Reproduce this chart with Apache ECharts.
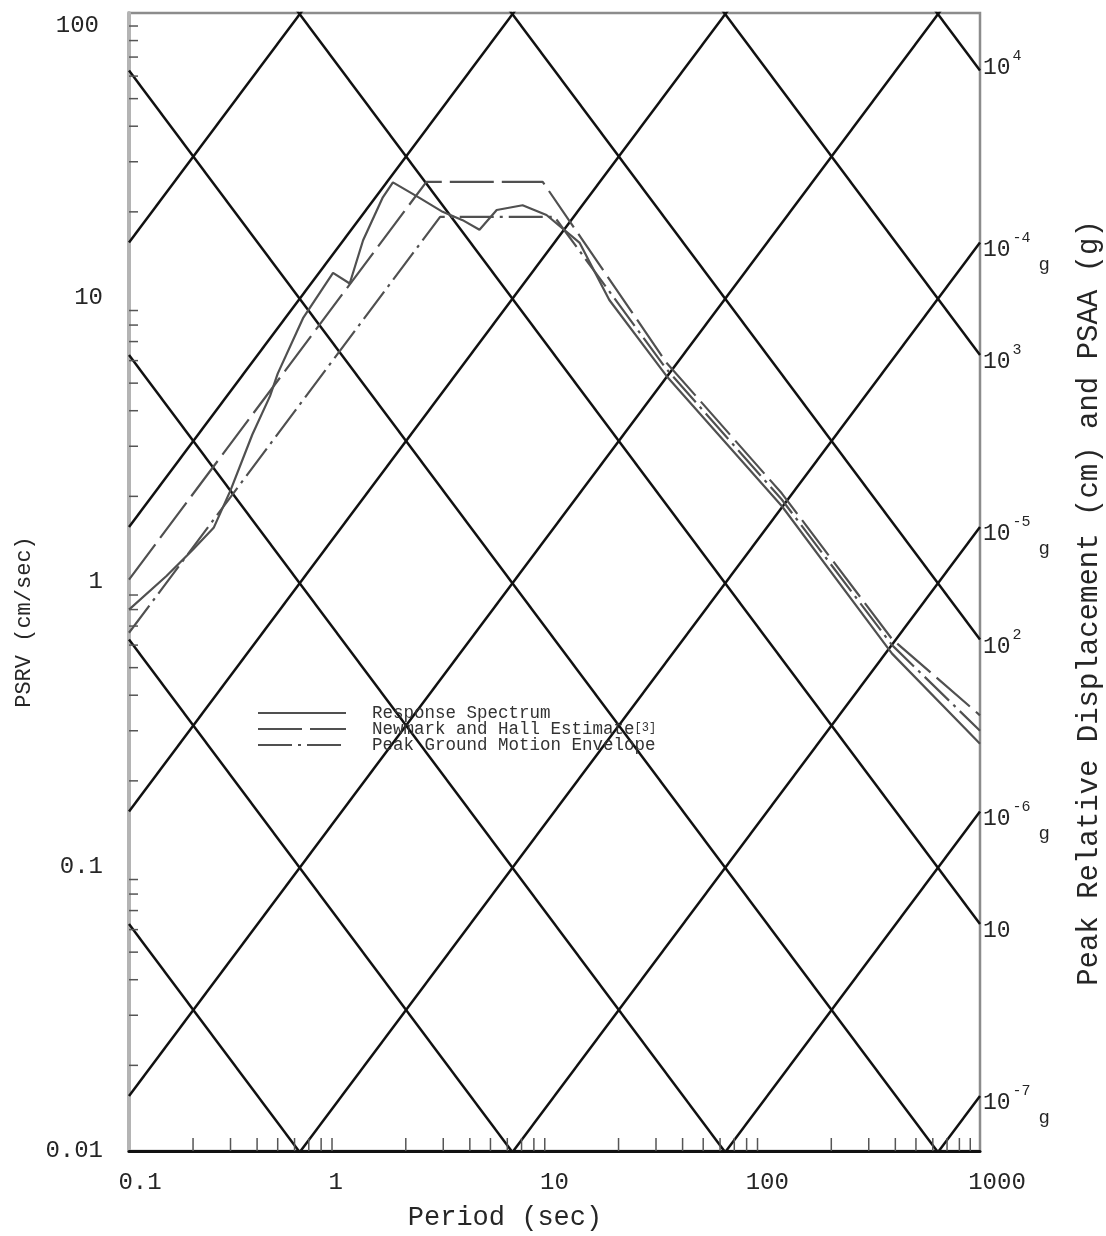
<!DOCTYPE html>
<html><head><meta charset="utf-8">
<script src="https://cdn.jsdelivr.net/npm/echarts@6/dist/echarts.min.js"></script>
<style>html,body{margin:0;padding:0;background:#fff}#c{width:1106px;height:1236px}</style>
</head><body><div id="c"></div>
<script>
// ---- tick labels ----
const xTickLabels = ['0.1', '1', '10', '100', '1000'];
const yTickLabels = ['0.01', '0.1', '1', '10', '100'];
const minorMultipliers = [2, 3, 4, 5, 6, 7, 8, 9];
const xDecades = [0.1, 1, 10, 100];
const yDecades = [0.01, 0.1, 1, 10];
// ---- tripartite grid: displacement (cm) and acceleration (g) lines with right-edge labels ----
const dispLines  = [1e-3, 1e-2, 1e-1, 1, 10, 100, 1e3, 1e4];
const dispLabels = ['', '', '', '', '{b|10}', '{b|10}{s|2}', '{b|10}{s|3}', '{b|10}{s|4}'];
const accLines   = [1e-7, 1e-6, 1e-5, 1e-4, 1e-3, 1e-2, 1e-1, 1];
const accLabels  = ['{b|10}{s|-7}{g|g}', '{b|10}{s|-6}{g|g}', '{b|10}{s|-5}{g|g}', '{b|10}{s|-4}{g|g}', '', '', '', ''];
// ---- series (period s, PSRV cm/s) ----
const rsPeriod = [0.1, 0.15, 0.2, 0.25, 0.3, 0.38, 0.46, 0.5, 0.66, 0.91, 1.09, 1.26, 1.56, 1.74, 2.32, 2.98, 3.7, 4.44, 5.35, 7.08, 9.17, 13.1, 18.1, 33.6, 117, 386, 1000];
const rsPSRV   = [0.8, 1.05, 1.3, 1.55, 2.1, 3.3, 4.5, 5.4, 8.5, 12.2, 11.2, 15.9, 22.5, 25.4, 22.4, 20.0, 18.7, 17.3, 20.3, 21.1, 19.5, 15.6, 9.8, 5.3, 1.85, 0.56, 0.27];
const nhPeriod = [0.1, 2.5, 8.8, 33.6, 117, 386, 1000];
const nhPSRV   = [1.02, 25.5, 25.5, 5.9, 2.05, 0.63, 0.34];
const envPeriod = [0.1, 2.9, 10, 33.6, 117, 386, 1000];
const envPSRV   = [0.663, 19.2, 19.2, 5.6, 1.95, 0.6, 0.3];

const FONT = '"Liberation Mono", "DejaVu Sans Mono", monospace';
const INK = '#262626';
const G = 981, TWO_PI = 2 * Math.PI, TMIN = 0.1, TMAX = 1000;
const zip = (a, b) => a.map((v, i) => [v, b[i]]);

const series = [];
const labelRich = {
  b: { fontFamily: FONT, fontSize: 23, color: INK, lineHeight: 50, verticalAlign: 'middle' },
  s: { fontFamily: FONT, fontSize: 15, color: INK, lineHeight: 16, verticalAlign: 'top', padding: [6, 0, 0, 2] },
  g: { fontFamily: FONT, fontSize: 19, color: INK, lineHeight: 20, verticalAlign: 'bottom', padding: [0, 0, 0, 8] }
};
function gridLine(name, data, label, dy) {
  series.push({
    type: 'line', name: name, silent: true, symbol: 'none', z: 1,
    lineStyle: { color: '#111', width: 2.5 }, data: data,
    endLabel: label ? { show: true, formatter: label, distance: 3, offset: [0, dy], rich: labelRich } : { show: false }
  });
}
dispLines.forEach((d, i) => gridLine('D' + i, [[TMIN, TWO_PI * d / TMIN], [TMAX, TWO_PI * d / TMAX]], dispLabels[i], i === 7 ? -3 : 7));
accLines.forEach((a, i) => gridLine('A' + i, [[TMIN, a * G * TMIN / TWO_PI], [TMAX, a * G * TMAX / TWO_PI]], accLabels[i], 7));

const curveColor = '#505050';
series.push({ type: 'line', name: 'Response Spectrum', symbol: 'none', z: 3,
  lineStyle: { color: curveColor, width: 2.2 }, itemStyle: { color: curveColor }, data: zip(rsPeriod, rsPSRV) });
series.push({ type: 'line', name: 'Newmark and Hall Estimate', symbol: 'none', z: 3,
  lineStyle: { color: curveColor, width: 2.2, type: [44, 8] }, itemStyle: { color: curveColor }, data: zip(nhPeriod, nhPSRV) });
series.push({ type: 'line', name: 'Peak Ground Motion Envelope', symbol: 'none', z: 3,
  lineStyle: { color: curveColor, width: 2.2, type: [34, 6, 3, 6] }, itemStyle: { color: curveColor }, data: zip(envPeriod, envPSRV) });

// minor ticks drawn through the axes' own scales
const xMinor = [], yMinor = [];
xDecades.forEach(dc => minorMultipliers.forEach(m => xMinor.push([dc * m, 0.01])));
yDecades.forEach(dc => minorMultipliers.forEach(m => yMinor.push([0.1, dc * m])));
series.push({ type: 'custom', silent: true, z: 4, clip: false, data: xMinor,
  renderItem: (p, api) => { const c = api.coord([api.value(0), api.value(1)]);
    return { type: 'line', shape: { x1: c[0], y1: c[1], x2: c[0], y2: c[1] - 13 }, style: { stroke: '#555', lineWidth: 1.5 } }; } });
series.push({ type: 'custom', silent: true, z: 4, clip: false, data: yMinor,
  renderItem: (p, api) => { const c = api.coord([api.value(0), api.value(1)]);
    return { type: 'line', shape: { x1: c[0], y1: c[1], x2: c[0] + 9, y2: c[1] }, style: { stroke: '#555', lineWidth: 1.5 } }; } });

const tickFont = { fontFamily: FONT, fontSize: 24, color: INK };
const chart = echarts.init(document.getElementById('c'), null, { renderer: 'canvas' });
chart.setOption({
  animation: false,
  backgroundColor: '#fff',
  grid: { left: 129, right: 126, top: 13, bottom: 85, containLabel: false, outerBoundsMode: 'none',
    show: true, borderColor: '#8c8c8c', borderWidth: 2.5 },
  xAxis: { type: 'log', logBase: 10, min: TMIN, max: TMAX,
    axisLine: { show: true, lineStyle: { color: '#111', width: 3 } },
    axisTick: { show: false }, splitLine: { show: false }, minorTick: { show: false },
    axisLabel: Object.assign({ margin: 20, showMinLabel: true, showMaxLabel: true,
      formatter: (v, i) => '{x' + i + '|' + xTickLabels[i] + '}',
      rich: {
        x0: Object.assign({ padding: [0, 0, 0, 22] }, tickFont),
        x1: Object.assign({ padding: [0, 12, 0, 0] }, tickFont),
        x2: Object.assign({}, tickFont),
        x3: Object.assign({}, tickFont),
        x4: Object.assign({ padding: [0, 0, 0, 34] }, tickFont)
      } }, tickFont) },
  yAxis: { type: 'log', logBase: 10, min: 0.01, max: 100,
    axisLine: { show: true, lineStyle: { color: '#b4b4b4', width: 4 } },
    axisTick: { show: false }, splitLine: { show: false }, minorTick: { show: false },
    axisLabel: Object.assign({ margin: 26, showMinLabel: true, showMaxLabel: true,
      formatter: (v, i) => '{y' + i + '|' + yTickLabels[i] + '}',
      rich: {
        y0: Object.assign({}, tickFont),
        y1: Object.assign({}, tickFont),
        y2: Object.assign({}, tickFont),
        y3: Object.assign({}, tickFont),
        y4: Object.assign({ padding: [26, 4, 0, 0] }, tickFont)
      } }, tickFont) },
  legend: {
    data: ['Response Spectrum', 'Newmark and Hall Estimate', 'Peak Ground Motion Envelope'],
    orient: 'vertical', left: 252, top: 699, itemWidth: 88, itemHeight: 10, itemGap: -2,
    itemStyle: { color: 'rgba(0,0,0,0)', borderColor: 'rgba(0,0,0,0)', borderWidth: 0, opacity: 0 },
    textStyle: { fontFamily: FONT, fontSize: 17.5, color: '#333', lineHeight: 15,
      rich: { s: { fontFamily: FONT, fontSize: 12, color: '#333', lineHeight: 15, verticalAlign: 'top' } } },
    formatter: n => n === 'Newmark and Hall Estimate' ? '  ' + n + '{s|[3]}' : '  ' + n
  },
  graphic: [
    { type: 'text', x: 24, y: 622, rotation: Math.PI / 2, style: { text: 'PSRV (cm/sec)', font: '22px ' + FONT, fill: INK, align: 'center', verticalAlign: 'middle' } },
    { type: 'text', x: 505, y: 1218, style: { text: 'Period (sec)', font: '27px ' + FONT, fill: INK, align: 'center', verticalAlign: 'middle' } },
    { type: 'text', x: 1089, y: 603, rotation: Math.PI / 2, style: { text: 'Peak Relative Displacement (cm) and PSAA (g)', font: '29px ' + FONT, fill: INK, align: 'center', verticalAlign: 'middle' } }
  ],
  series: series
});
</script></body></html>
